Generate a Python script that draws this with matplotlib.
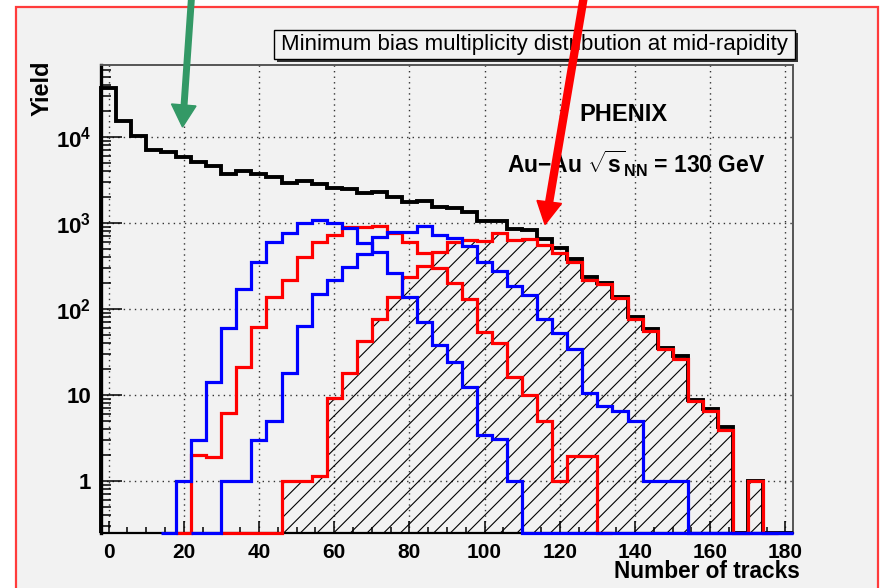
import matplotlib
matplotlib.use("Agg")
import matplotlib.pyplot as plt
import numpy as np
from matplotlib.patches import Rectangle, Polygon
from matplotlib.lines import Line2D

# histogram binning: 4-track bins from -2 to 182
bin_edges = np.arange(-2, 183, 4)

# minimum bias (black)
total = [36800, 15500, 10350, 7060, 6750, 5820, 5160, 4550, 3700, 4000,
         3700, 3450, 2950, 3050, 2830, 2530, 2480, 2215, 2275, 2020,
         1770, 1800, 1550, 1500, 1340, 1060, 1060, 840, 825, 655,
         512, 381, 233, 199, 137, 81, 58, 35, 28, 8.8,
         6.9, 4.2, 0, 1, 0, 0]

# centrality classes (blue, red, blue, red-hatched)
blue_1 = [0, 0, 0, 0, 0, 1, 3, 14, 60, 170,
          355, 600, 760, 995, 1085, 1010, 870, 590, 464, 260,
          137, 71, 38, 24, 12.5, 3.4, 3.05, 1, 0, 0,
          0, 0, 0, 0, 0, 0, 0, 0, 0, 0,
          0, 0, 0, 0, 0, 0]
red_1 = [0, 0, 0, 0, 0, 0, 2, 1.9, 6.1, 21,
         61, 139, 217, 405, 605, 724, 905, 905, 930, 760,
         600, 452, 297, 200, 130, 54, 40, 16, 10, 5,
         1, 1.95, 1.95, 0, 0, 0, 0, 0, 0, 0,
         0, 0, 0, 0, 0, 0]
blue_2 = [0, 0, 0, 0, 0, 0, 0, 0, 1, 1,
          3, 5, 18, 64, 149, 217, 305, 436, 682, 780,
          780, 925, 715, 675, 540, 355, 279, 185, 146, 76,
          52, 34, 10.5, 7.5, 6.5, 5, 1, 1, 1, 0,
          0, 0, 0, 0, 0, 0]
red_2 = [0, 0, 0, 0, 0, 0, 0, 0, 0, 0,
         0, 0, 1, 1, 1.15, 9.2, 18, 42, 76, 137,
         237, 320, 455, 600, 640, 625, 765, 635, 647, 555,
         444, 355, 217, 195, 133, 76, 55, 34, 26.5, 8.4,
         6.5, 3.9, 0, 1, 0, 0]

# x-range over which each class histogram was drawn
ranges = {"blue_1": (14, 182), "red_1": (18, 134), "blue_2": (22, 182), "red_2": (30, 178)}

YMIN, YMAX = 0.248, 68700
BG = "#f2f2f2"

plt.rcParams["font.family"] = ["Liberation Sans", "DejaVu Sans"]
plt.rcParams["font.weight"] = "bold"
plt.rcParams["mathtext.fontset"] = "custom"
plt.rcParams["mathtext.rm"] = "Liberation Sans:bold"
plt.rcParams["mathtext.bf"] = "Liberation Sans:bold"
plt.rcParams["mathtext.default"] = "rm"
plt.rcParams["hatch.linewidth"] = 0.8

W, H = 880, 588
fig = plt.figure(figsize=(W / 100, H / 100), dpi=100, facecolor="white")


def fx(x):
    return x / W


def fy(y):
    return 1 - y / H


# canvas with red border
fig.patches.append(Rectangle((fx(16), fy(600)), fx(878) - fx(16), fy(7) - fy(600),
                             transform=fig.transFigure, facecolor=BG,
                             edgecolor="#ff3b3b", linewidth=1.6, zorder=-10))

ax = fig.add_axes([fx(101), fy(533), fx(793) - fx(101), fy(65) - fy(533)])
ax.set_facecolor(BG)
ax.set_yscale("log")
ax.set_xlim(-2, 182)
ax.set_ylim(YMIN, YMAX)


def clipped(vals):
    v = np.array(vals, dtype=float)
    return np.where(v > 0, v, YMIN)


# black total
ax.stairs(clipped(total), bin_edges, baseline=YMIN, color="black", linewidth=2.8,
          zorder=3, clip_on=False)


def draw_class(vals, rng, color, hatch=False):
    i0 = int((rng[0] - bin_edges[0]) / 4)
    i1 = int((rng[1] - bin_edges[0]) / 4)
    v = clipped(vals)[i0:i1]
    e = bin_edges[i0:i1 + 1]
    if hatch:
        ax.stairs(v, e, baseline=YMIN, fill=True, facecolor="none", edgecolor="black",
                  hatch="//", linewidth=0, zorder=2)
    ax.stairs(v, e, baseline=None, color=color, linewidth=2.3, zorder=4, clip_on=False)


# reds first so the blue zero-lines end up on top along the bottom edge
draw_class(red_1, ranges["red_1"], "#ff0000")
draw_class(red_2, ranges["red_2"], "#ff0000", hatch=True)
draw_class(blue_1, ranges["blue_1"], "#0000ff")
draw_class(blue_2, ranges["blue_2"], "#0000ff")

# grid and ticks
ax.set_xticks(np.arange(0, 181, 20))
ax.set_xticks(np.arange(0, 181, 5), minor=True)
ax.set_yticks([1, 10, 100, 1000, 10000])
ax.set_yticklabels(["1", "10", r"$10^{2}$", r"$10^{3}$", r"$10^{4}$"])
ax.grid(True, which="major", color="#333333", linestyle=(0, (1, 3)), linewidth=1)
ax.tick_params(axis="x", which="major", direction="in", length=9, width=1.1, pad=7,
               labelsize=15)
ax.tick_params(axis="x", which="minor", direction="in", length=4.5, width=1.1)
ax.tick_params(axis="y", which="major", direction="in", length=15, width=1.1, pad=7,
               labelsize=16)
ax.tick_params(axis="y", which="minor", direction="in", length=7.5, width=1.1)
for lab in ax.get_xticklabels() + ax.get_yticklabels():
    lab.set_fontweight("bold")

ax.spines["left"].set_linewidth(2.4)
ax.spines["bottom"].set_linewidth(1.6)
for s in ("top", "right"):
    ax.spines[s].set_color("#555555")
    ax.spines[s].set_linewidth(1.4)

# labels
fig.text(fx(800), fy(572), "Number of tracks", ha="right", va="center",
         fontsize=16.3, fontweight="bold")
fig.text(fx(42), fy(60), "Yield", ha="center", va="top", rotation=90,
         fontsize=17, fontweight="bold")
fig.text(fx(623), fy(115), "PHENIX", ha="center", va="center", fontsize=17,
         fontweight="bold")
fig.text(fx(507), fy(164), r"Au$-$Au $\sqrt{s}_{NN}$ = 130 GeV", ha="left",
         va="center", fontsize=16.5, fontweight="bold")

# title box with shadow
fig.patches.append(Rectangle((fx(277), fy(62)), fx(795) - fx(274), fy(30) - fy(59),
                             transform=fig.transFigure, facecolor="#333333",
                             edgecolor="none", zorder=5))
fig.patches.append(Rectangle((fx(274), fy(59)), fx(795) - fx(274), fy(30) - fy(59),
                             transform=fig.transFigure, facecolor=BG,
                             edgecolor="black", linewidth=1, zorder=6))
fig.text(fx(534.5), fy(44.5), "Minimum bias multiplicity distribution at mid-rapidity",
         ha="center", va="center", fontsize=16, fontweight="normal", zorder=7)

# arrows
green = "#339966"
fig.lines.append(Line2D([fx(192), fx(184)], [fy(-10), fy(106)], transform=fig.transFigure,
                        color=green, linewidth=5, solid_capstyle="butt", zorder=8))
fig.patches.append(Polygon([(fx(171.5), fy(104)), (fx(196), fy(106)), (fx(182.5), fy(127))],
                           closed=True, transform=fig.transFigure, color=green, zorder=8))
fig.lines.append(Line2D([fx(585), fx(549)], [fy(-10), fy(203)], transform=fig.transFigure,
                        color="#ff0000", linewidth=6, solid_capstyle="butt", zorder=8))
fig.patches.append(Polygon([(fx(537), fy(200.5)), (fx(561.5), fy(203.5)), (fx(545), fy(224.5))],
                           closed=True, transform=fig.transFigure, color="#ff0000", zorder=8))

fig.savefig("out.png", dpi=100, facecolor=fig.get_facecolor())
